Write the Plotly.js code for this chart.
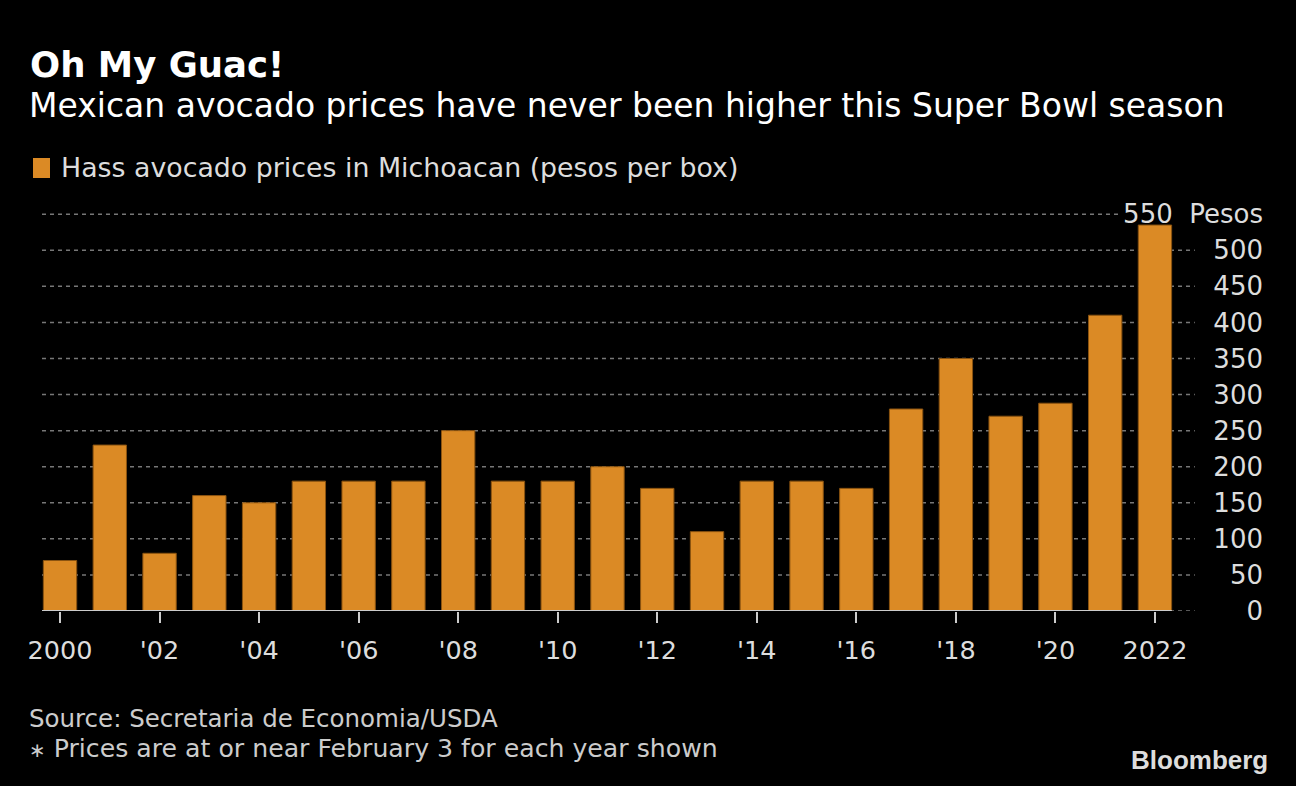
<!DOCTYPE html>
<html>
<head>
<meta charset="utf-8">
<script src="https://cdn.plot.ly/plotly-3.0.1.min.js"></script>
<style>html,body{margin:0;padding:0;background:#000;}#chart{width:1296px;height:786px;}</style>
</head>
<body>
<div id="chart"></div>
<script>
const years = [2000,2001,2002,2003,2004,2005,2006,2007,2008,2009,2010,2011,2012,2013,2014,2015,2016,2017,2018,2019,2020,2021,2022];
const prices = [70,230,80,160,150,180,180,180,250,180,180,200,170,110,180,180,170,280,350,270,288,410,535];
const xTickVals = [2000,2002,2004,2006,2008,2010,2012,2014,2016,2018,2020,2022];
const xTickText = ["2000","'02","'04","'06","'08","'10","'12","'14","'16","'18","'20","2022"];
const yTickVals = [0,50,100,150,200,250,300,350,400,450,500,550];
const yTickText = ["0","50","100","150","200","250","300","350","400","450","500","550\u00a0 Pesos"];
const seriesName = "Hass avocado prices in Michoacan (pesos per box)";
const titleText = "Oh My Guac!";
const subtitleText = "Mexican avocado prices have never been higher this Super Bowl season";
const sourceText = "Source: Secretaria de Economia/USDA";
const noteText = "Prices are at or near February 3 for each year shown";

const FONT = "DejaVu Sans, sans-serif";
const ORANGE = "#DB8A25";
const xLeft = 1999.638, xGridEnd = 2022.8, xAxisEnd = 2022.34, xTopGridEnd = 2021.28;

const shapes = [];
yTickVals.forEach((v, i) => {
  const last = i === yTickVals.length - 1;
  shapes.push({type:"line", xref:"x", yref:"y", x0:xLeft, x1:last ? xTopGridEnd : xGridEnd, y0:v, y1:v,
    line:{color:"#777", width:1.5, dash:"4px,4px"}, layer:"below"});
});
shapes.push({type:"line", xref:"x", yref:"y", x0:xLeft, x1:xAxisEnd, y0:0, y1:0,
  line:{color:"#cccccc", width:2}, layer:"above"});
// legend swatch
shapes.push({type:"rect", xref:"paper", yref:"paper",
  x0:(33-42)/1224, x1:(50-42)/1224, y0:(611-178)/404, y1:(611-158)/404,
  fillcolor:ORANGE, line:{width:0}});

const annotations = [
  {text:"<b>"+titleText+"</b>", x:(28-42)/1224, y:(611-42)/404, xref:"paper", yref:"paper",
   xanchor:"left", yanchor:"top", showarrow:false, font:{family:FONT, size:35.5, color:"#ffffff"}},
  {text:subtitleText, x:(27-42)/1224, y:(611-84)/404, xref:"paper", yref:"paper",
   xanchor:"left", yanchor:"top", showarrow:false, font:{family:FONT, size:33, color:"#ffffff"}},
  {text:seriesName, x:(59-42)/1224, y:(611-168)/404, xref:"paper", yref:"paper",
   xanchor:"left", yanchor:"middle", showarrow:false, font:{family:FONT, size:26.8, color:"#dddddd"}},
  {text:sourceText, x:(27-42)/1224, y:(611-718)/404, xref:"paper", yref:"paper",
   xanchor:"left", yanchor:"middle", showarrow:false, font:{family:FONT, size:24.5, color:"#cccccc"}},
  {text:"<span style='font-size:20px'>\u2217</span> " + noteText, x:(27-42)/1224, y:(611-748)/404, xref:"paper", yref:"paper",
   xanchor:"left", yanchor:"middle", showarrow:false, font:{family:FONT, size:25.2, color:"#cccccc"}},
  {text:"<b>Bloomberg</b>", x:(1270-42)/1224, y:(611-760)/404, xref:"paper", yref:"paper",
   xanchor:"right", yanchor:"middle", showarrow:false, font:{family:"Liberation Sans, Arial, sans-serif", size:26, color:"#dddddd"}}
];

const data = [{
  type:"bar", x:years, y:prices, name:seriesName, width:0.67,
  marker:{color:ORANGE, line:{color:"#8a5310", width:1}},
  hoverinfo:"x+y"
}];

const layout = {
  width:1296, height:786,
  paper_bgcolor:"#000000", plot_bgcolor:"#000000",
  margin:{l:42, r:30, t:207, b:175, pad:0},
  showlegend:false,
  font:{family:FONT, color:"#dddddd"},
  bargap:0,
  xaxis:{range:[xLeft, xLeft + 1224/49.77], tickmode:"array", tickvals:xTickVals, ticktext:xTickText,
    ticks:"outside", ticklen:11, tickwidth:2, tickcolor:"#cccccc",
    showgrid:false, zeroline:false, showline:false,
    tickfont:{family:FONT, size:25.5, color:"#dddddd"}, ticklabelstandoff:5, fixedrange:true},
  yaxis:{range:[0,560], side:"right", tickmode:"array", tickvals:yTickVals, ticktext:yTickText,
    ticklabelposition:"inside", ticklabeloverflow:"allow", ticks:"",
    showgrid:false, zeroline:false, showline:false,
    tickfont:{family:FONT, size:26, color:"#dddddd"}, fixedrange:true},
  shapes:shapes,
  annotations:annotations
};

Plotly.newPlot("chart", data, layout, {displayModeBar:false, staticPlot:true});
</script>
</body>
</html>
